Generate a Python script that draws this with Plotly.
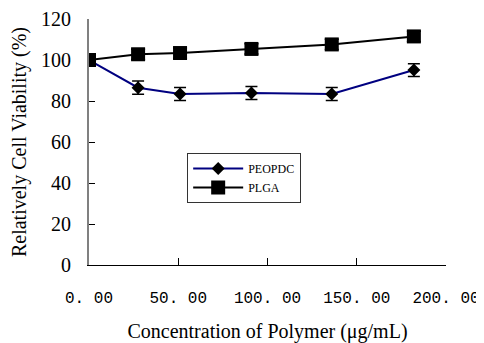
import plotly.graph_objects as go

conc = [0, 27.5, 51, 91, 136, 182]
peopdc = [100, 86.5, 83.4, 83.9, 83.4, 95.1]
peopdc_err = [0, 3.2, 3.2, 3.2, 3.2, 3.1]
plga = [100, 102.8, 103.4, 105.4, 107.6, 111.5]
plga_err = [0, 2.5, 2.5, 2.5, 2.5, 2.5]

xtick_vals = [0, 50, 100, 150, 200]
xtick_text = ["0. 00", "50. 00", "100. 00", "150. 00", "200. 00"]
ytick_vals = [0, 20, 40, 60, 80, 100, 120]

fig = go.Figure()
fig.add_trace(go.Scatter(
    x=conc, y=peopdc, name="PEOPDC", mode="lines+markers",
    line=dict(color="#000080", width=2),
    marker=dict(symbol="diamond", size=10, color="black"),
    error_y=dict(type="data", array=peopdc_err, color="black", thickness=1.5, width=6),
))
fig.add_trace(go.Scatter(
    x=conc, y=plga, name="PLGA", mode="lines+markers",
    line=dict(color="black", width=2),
    marker=dict(symbol="square", size=14, color="black"),
    error_y=dict(type="data", array=plga_err, color="black", thickness=1.5, width=7),
))

fig.update_layout(
    width=476, height=335,
    margin=dict(l=81, r=38, t=11, b=78, autoexpand=False),
    paper_bgcolor="white", plot_bgcolor="white",
    font=dict(family="Liberation Serif", color="black"),
    showlegend=True,
    legend=dict(
        x=0.275, y=0.455, xanchor="left", yanchor="top",
        bgcolor="white", bordercolor="#333333", borderwidth=1,
        font=dict(family="Liberation Serif", size=12, color="black"),
        itemwidth=50, tracegroupgap=0,
    ),
)
fig.update_xaxes(
    range=[0, 200], tickvals=xtick_vals, ticktext=xtick_text, automargin=False,
    ticks="inside", ticklen=7, tickcolor="black", tickwidth=1,
    showline=True, linecolor="black", linewidth=1, showgrid=False, zeroline=False,
    tickfont=dict(family="Liberation Mono", size=16, color="black"),
    ticklabelstandoff=18, ticklabeloverflow="allow",
    title=dict(text="Concentration of Polymer (μg/mL)", font=dict(family="Liberation Serif", size=20), standoff=18),
)
fig.update_yaxes(
    range=[0, 120], tickvals=ytick_vals, automargin=False,
    ticks="inside", ticklen=6, tickcolor="black", tickwidth=1,
    showline=True, linecolor="#808080", linewidth=2, showgrid=False, zeroline=False,
    tickfont=dict(family="Liberation Serif", size=20, color="black"),
    ticklabelstandoff=12, ticklabeloverflow="allow",
    title=dict(text="Relatively Cell Viability (%)", font=dict(family="Liberation Serif", size=20), standoff=10),
)

fig.write_html("out.html")
